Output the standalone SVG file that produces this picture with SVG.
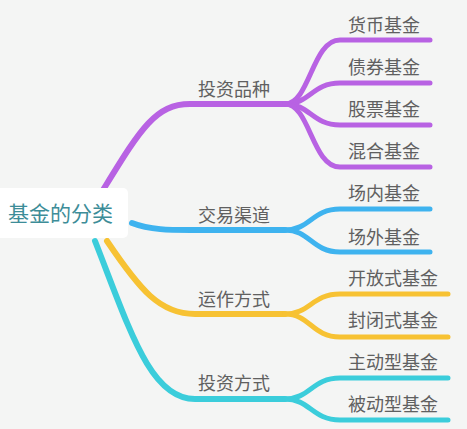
<svg xmlns="http://www.w3.org/2000/svg" width="467" height="429" viewBox="0 0 467 429">
<style>
.l{fill:none;stroke-linecap:round;stroke-linejoin:round}
.m{stroke-width:6}
.c{stroke-width:5}
.p{stroke:#b862e3}
.b{stroke:#3eb3ef}
.y{stroke:#f7c233}
.t{stroke:#3bcddb}
text{font-family:"Noto Sans CJK SC","Noto Sans",sans-serif;fill:#606060}
.n{font-size:18px}
.r{font-size:21px;fill:#3d8d98}
</style>
<rect width="467" height="429" fill="#f4f5f4"/>
<g id="connectors">
<path class="l m p" d="M103,190 C140,130 155,104 190,104 H285"/>
<path class="l c p" d="M285,104 C310,104 312,40 340,40 H430"/>
<path class="l c p" d="M285,104 C310,104 312,83 340,83 H430"/>
<path class="l c p" d="M285,104 C310,104 312,125 340,125 H430"/>
<path class="l c p" d="M285,104 C310,104 312,167 340,167 H430"/>
<path class="l m b" d="M132,223 C150,230 170,230 190,230 H285"/>
<path class="l c b" d="M285,230 C310,230 312,209 340,209 H430"/>
<path class="l c b" d="M285,230 C310,230 312,252 340,252 H430"/>
<path class="l m y" d="M107,241 C140,290 160,314 195,314 H285"/>
<path class="l c y" d="M285,314 C310,314 312,294 340,294 H448"/>
<path class="l c y" d="M285,314 C310,314 312,337 340,337 H448"/>
<path class="l m t" d="M95,241 C130,330 150,399 195,399 H285"/>
<path class="l c t" d="M285,399 C310,399 312,378 340,378 H448"/>
<path class="l c t" d="M285,399 C310,399 312,420 340,420 H448"/>
</g>
<g id="root"><rect x="-6" y="188" width="134" height="50" rx="5" fill="#fff"/><text class="r" x="8" y="221">基金的分类</text></g>
<g id="n1"><text class="n" x="198" y="96">投资品种</text></g>
<g id="n1a"><text class="n" x="348" y="32">货币基金</text></g>
<g id="n1b"><text class="n" x="348" y="74">债券基金</text></g>
<g id="n1c"><text class="n" x="348" y="116">股票基金</text></g>
<g id="n1d"><text class="n" x="348" y="158">混合基金</text></g>
<g id="n2"><text class="n" x="198" y="222">交易渠道</text></g>
<g id="n2a"><text class="n" x="348" y="200">场内基金</text></g>
<g id="n2b"><text class="n" x="348" y="244">场外基金</text></g>
<g id="n3"><text class="n" x="198" y="306">运作方式</text></g>
<g id="n3a"><text class="n" x="348" y="285">开放式基金</text></g>
<g id="n3b"><text class="n" x="348" y="327">封闭式基金</text></g>
<g id="n4"><text class="n" x="198" y="390">投资方式</text></g>
<g id="n4a"><text class="n" x="348" y="369">主动型基金</text></g>
<g id="n4b"><text class="n" x="348" y="411">被动型基金</text></g>
</svg>
